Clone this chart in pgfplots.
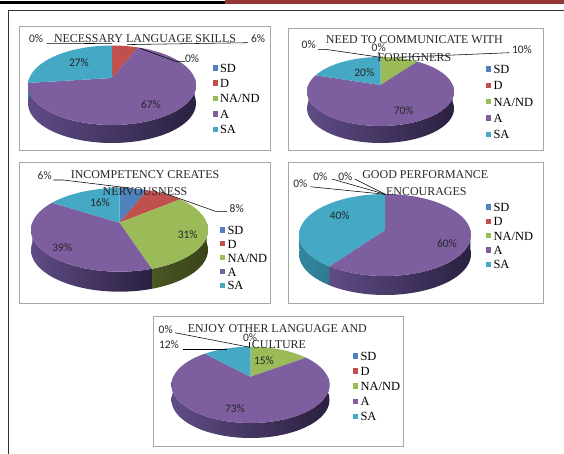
\documentclass[border=0pt]{standalone}
\usepackage{fontspec}
\setmainfont{Liberation Serif}
\newfontfamily\pctfont{Carlito}
\usepackage{pgfplots}
\pgfplotsset{compat=1.18}

\definecolor{cSD}{HTML}{4F81BD}
\definecolor{cD}{HTML}{C0504D}
\definecolor{cNA}{HTML}{9BBB59}
\definecolor{cA}{HTML}{7D5FA0}
\definecolor{cSA}{HTML}{45A9C6}
\definecolor{cSDL}{HTML}{3A6090}\definecolor{cSDM}{HTML}{30507A}\definecolor{cSDR}{HTML}{203858}
\definecolor{cDL}{HTML}{903C3A}\definecolor{cDM}{HTML}{783230}\definecolor{cDR}{HTML}{582422}
\definecolor{cNAL}{HTML}{4A5624}\definecolor{cNAM}{HTML}{434E20}\definecolor{cNAR}{HTML}{39431A}
\definecolor{cAL}{HTML}{5F4C85}\definecolor{cAM}{HTML}{4A3A69}\definecolor{cAR}{HTML}{2A2040}
\definecolor{cSAL}{HTML}{33869E}\definecolor{cSAM}{HTML}{318298}\definecolor{cSAR}{HTML}{2F7B90}
\definecolor{frameC}{HTML}{A6A6A6}
\definecolor{barRed}{RGB}{148,54,52}

% append an arc of the projected pie rim (#1 to #2 degrees clockwise from the top), shifted down by #3
\newcommand{\arcpts}[3]{%
  \pgfmathtruncatemacro\nseg{max(1,ceil(abs(#2-#1)/3))}%
  \foreach \ii in {0,...,\nseg}{%
    \pgfmathsetmacro\ang{#1+(#2-#1)*(\ii/\nseg)}%
    \pgfmathsetmacro\xx{\cx+\pR*sin(\ang)/(1+\pk*cos(\ang))}%
    \pgfmathsetmacro\yy{\ay-\pS*cos(\ang)/(1+\pk*cos(\ang))+#3}%
    \xdef\pts{\pts (\xx,\yy)}%
  }%
}
\newcommand{\wallslice}[3]{%
  \pgfmathsetmacro\lo{max(#1,90)}%
  \pgfmathsetmacro\hi{min(#2,270)}%
  \pgfmathparse{\hi>\lo ? 1 : 0}%
  \ifdim\pgfmathresult pt>0.5pt
    \gdef\pts{}%
    \arcpts{\lo}{\hi}{0}%
    \arcpts{\hi}{\lo}{\depth}%
    \edef\tmp{\noexpand\addplot[forget plot,draw=none,left color=#3L,middle color=#3M,right color=#3R] coordinates {\pts};}%
    \tmp
  \fi
}
\newcommand{\topslice}[3]{%
  \xdef\pts{(\cx,\ay)}%
  \arcpts{#1}{#2}{0}%
  \edef\tmp{\noexpand\addplot[forget plot,draw=none,fill=#3] coordinates {\pts};}%
  \tmp
}
% #1 cx, #2 apex y, #3 top y, #4 bottom y, #5 half width, #6 depth,
% #7 percent shares in the order SD, D, NA/ND, A, SA, written val/colour
\newcommand{\piechart}[7]{%
  \def\cx{#1}\def\ay{#2}\def\depth{#6}%
  \pgfmathsetmacro\pk{(#4+#3-2*#2)/(#4-#3)}%
  \pgfmathsetmacro\pS{(#2-#3)*(1+\pk)}%
  \pgfmathsetmacro\pR{#5*sqrt(1-\pk*\pk)}%
  \gdef\cum{0}%
  \foreach \val/\col in {#7} {%
    \pgfmathsetmacro\nxt{\cum+3.6*\val}%
    \pgfmathparse{\val>0 ? 1 : 0}%
    \ifdim\pgfmathresult pt>0.5pt \wallslice{\cum}{\nxt}{\col}\fi
    \xdef\cum{\nxt}%
  }%
  \gdef\cum{0}%
  \foreach \val/\col in {#7} {%
    \pgfmathsetmacro\nxt{\cum+3.6*\val}%
    \pgfmathparse{\val>0 ? 1 : 0}%
    \ifdim\pgfmathresult pt>0.5pt \topslice{\cum}{\nxt}{\col}\fi
    \xdef\cum{\nxt}%
  }%
}

\newcommand{\legendimages}{%
  \addlegendimage{cSD}\addlegendimage{cD}\addlegendimage{cNA}\addlegendimage{cA}\addlegendimage{cSA}%
}
\newcommand{\lead}[1]{\addplot[forget plot,black,line width=0.55pt] coordinates {#1};}
\newcommand{\pct}[3]{\node[font=\pctfont\fontsize{11.5}{12}\selectfont,text=black!85,inner sep=0pt] at (axis cs:#1,#2) {#3};}
\newcommand{\ttl}[3]{\node[font=\fontsize{12}{13}\selectfont,text=black!85,inner sep=0pt] at (axis cs:#1,#2) {#3};}

\pgfplotsset{
  panel/.style n args={4}{
    anchor=north west, at={(#1bp,-#3bp)},
    scale only axis, clip=false,
    xmin=#1, xmax=#2, ymin=#3, ymax=#4, y dir=reverse,
    ticks=none, axis line style={frameC,line width=0.9pt},
    legend cell align=left,
    legend entries={SD,D,NA/ND,A,SA},
    legend image code/.code={\fill[##1,draw=none] (0pt,-2.6pt) rectangle (5.4pt,2.8pt);\path (7.4pt,0pt);},
  },
  leg/.style n args={3}{
    legend style={at={(axis cs:#1,#2)},anchor=north west,draw=none,fill=none,
      font=\fontsize{12.5}{13}\selectfont,inner sep=0pt,outer sep=0pt,
      row sep=#3,column sep=0pt,
      nodes={inner sep=0pt,outer sep=0pt,text height=8.5pt,text depth=0pt}},
  },
}

\begin{document}
\begin{tikzpicture}[x=1bp,y=1bp]
\path[use as bounding box] (0,0) rectangle (564bp,-454bp);
\fill[black] (0,-1bp) rectangle (225bp,-3.7bp);
\fill[barRed] (225bp,0) rectangle (564bp,-3.9bp);
\draw[black!80,line width=0.8pt] (564bp,-10.3bp) -- (8bp,-10.3bp) -- (8bp,-454bp);

% 1
\begin{axis}[panel={19}{270}{26}{150.7}, width=251bp, height=124.7bp, leg={212.5}{63.7}{6.9pt}]
\legendimages
\piechart{112}{78}{45.5}{125}{84}{18}{0/cSD,6/cD,0/cNA,67/cA,27/cSA}
\lead{(46.7,43.3)(112,43.6)}
\lead{(248,42.7)(127,44.6)}
\lead{(185,61.7)(176.7,61.7)(140,48.3)}
\ttl{145}{39}{NECESSARY LANGUAGE SKILLS}
\pct{36}{39}{0\%}
\pct{258}{39}{6\%}
\pct{192}{58.7}{0\%}
\pct{79}{63}{27\%}
\pct{151}{105}{67\%}
\end{axis}

% 2
\begin{axis}[panel={288}{543.7}{28.3}{150.7}, width=255.7bp, height=122.4bp, leg={486}{64.7}{8pt}]
\legendimages
\piechart{380.5}{85}{57}{126}{73.5}{17}{0/cSD,0/cD,10/cNA,70/cA,20/cSA}
\lead{(318,49.3)(325.3,49.3)(380.3,57.3)}
\lead{(378.7,52)(380.3,57)}
\lead{(509.3,52.7)(398.7,57.3)}
\ttl{414.3}{40}{NEED TO COMMUNICATE WITH}
\ttl{414.3}{57.3}{FOREIGNERS}
\pct{308.7}{45}{0\%}
\pct{378.7}{47.7}{0\%}
\pct{522}{49.3}{10\%}
\pct{364.3}{72.3}{20\%}
\pct{403.7}{111}{70\%}
\end{axis}

% 3
\begin{axis}[panel={19.3}{270}{162.3}{303.3}, width=250.7bp, height=141bp, leg={220}{225.7}{5.5pt}]
\legendimages
\piechart{119.5}{222.7}{188}{271.7}{88.5}{20}{6/cSD,8/cD,31/cNA,39/cA,16/cSA}
\lead{(53.3,180)(63.3,180)(131.7,188.3)}
\lead{(227.3,211.7)(216.7,211.7)(160,191.7)}
\ttl{145}{175}{INCOMPETENCY CREATES}
\ttl{145}{191.7}{NERVOUSNESS}
\pct{44.7}{175.7}{6\%}
\pct{236.7}{209}{8\%}
\pct{100}{202.7}{16\%}
\pct{187.7}{235}{31\%}
\pct{62.3}{247.7}{39\%}
\end{axis}

% 4
\begin{axis}[panel={288}{543.7}{162.3}{303.3}, width=255.7bp, height=141bp, leg={486}{202.7}{6pt}]
\legendimages
\piechart{385}{230}{194}{276}{86}{19}{0/cSD,0/cD,0/cNA,60/cA,40/cSA}
\lead{(310.3,186.7)(385.3,194.3)}
\lead{(332,179)(385.3,194.3)}
\lead{(354.7,179)(385.3,194.3)}
\ttl{425.3}{175}{GOOD PERFORMANCE}
\ttl{426.3}{191.7}{ENCOURAGES}
\pct{300.3}{184}{0\%}
\pct{320.3}{176.7}{0\%}
\pct{345.3}{176.7}{0\%}
\pct{339.7}{216}{40\%}
\pct{447}{244}{60\%}
\end{axis}

% 5
\begin{axis}[panel={153.3}{403.3}{316}{446}, width=250bp, height=130bp, leg={353}{351.7}{6.7pt}]
\legendimages
\piechart{250.5}{376.7}{346.7}{423}{79}{15}{0/cSD,0/cD,15/cNA,73/cA,12/cSA}
\lead{(175,332.7)(250,347.3)}
\lead{(249,342)(249,347)}
\lead{(182.7,349)(226.7,349)}
\ttl{277.3}{328.3}{ENJOY OTHER LANGUAGE AND}
\ttl{279}{345}{CULTURE}
\pct{165.7}{329.3}{0\%}
\pct{250}{337.3}{0\%}
\pct{169}{345}{12\%}
\pct{264}{360.7}{15\%}
\pct{235}{408.3}{73\%}
\end{axis}
\end{tikzpicture}
\end{document}
